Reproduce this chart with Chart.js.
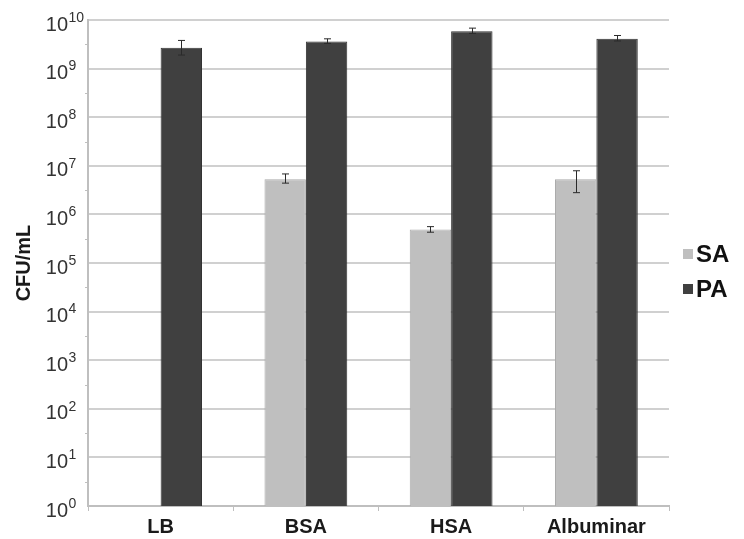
<!DOCTYPE html>
<html><head><meta charset="utf-8">
<script src="https://cdn.jsdelivr.net/npm/chart.js@4/dist/chart.umd.min.js"></script>
<style>html,body{margin:0;padding:0;background:#fff}#wrap{width:744px;height:539px}</style>
</head><body><div id="wrap"><canvas id="c" width="744" height="539"></canvas></div>
<script>
const categories = ['LB', 'BSA', 'HSA', 'Albuminar'];
const seriesNames = ['SA', 'PA'];
const saValues = [null, 5.3e6, 4.9e5, 5.3e6];
const saLow    = [null, 4.4e6, 4.3e5, 2.8e6];
const saHigh   = [null, 6.8e6, 5.6e5, 7.9e6];
const paValues = [2.7e9, 3.6e9, 5.9e9, 4.1e9];
const paLow    = [1.9e9, 3.3e9, 5.3e9, 3.7e9];
const paHigh   = [3.8e9, 4.1e9, 6.8e9, 4.8e9];
const yTickExponents = [0, 1, 2, 3, 4, 5, 6, 7, 8, 9, 10];
const yTitle = 'CFU/mL';

const FONT = "'Liberation Sans', Arial, sans-serif";
const colors = ['#bfbfbf', '#404040'];
const borders = ['#ababab', '#333333'];
const errLow = [saLow, paLow];
const errHigh = [saHigh, paHigh];

const extras = {
  id: 'extras',
  afterDatasetsDraw(chart) {
    const ctx = chart.ctx;
    const y = chart.scales.y;
    const area = chart.chartArea;
    ctx.save();
    // error bars
    ctx.strokeStyle = '#2a2a2a';
    ctx.lineWidth = 1;
    chart.data.datasets.forEach((ds, i) => {
      const meta = chart.getDatasetMeta(i);
      meta.data.forEach((bar, j) => {
        const lo = errLow[i][j], hi = errHigh[i][j];
        if (lo == null || hi == null) return;
        const x = Math.round(bar.x) + 0.5;
        const y1 = y.getPixelForValue(hi), y2 = y.getPixelForValue(lo);
        ctx.beginPath();
        ctx.moveTo(x, y1); ctx.lineTo(x, y2);
        ctx.moveTo(x - 3.5, y1); ctx.lineTo(x + 3.5, y1);
        ctx.moveTo(x - 3.5, y2); ctx.lineTo(x + 3.5, y2);
        ctx.stroke();
      });
    });
    ctx.restore();
  },
  afterDraw(chart) {
    const ctx = chart.ctx;
    const y = chart.scales.y;
    const area = chart.chartArea;
    ctx.save();
    // minor ticks on y axis
    ctx.strokeStyle = '#bfbfbf';
    ctx.lineWidth = 1;
    for (let k = 0; k < yTickExponents.length - 1; k++) {
      const py = Math.round(y.getPixelForValue(Math.pow(10, yTickExponents[k] + 0.5))) + 0.5;
      ctx.beginPath(); ctx.moveTo(area.left - 3, py); ctx.lineTo(area.left + 1, py); ctx.stroke();
    }
    // y tick labels 10^n
    ctx.fillStyle = '#333333';
    yTickExponents.forEach(e => {
      const py = y.getPixelForValue(Math.pow(10, e));
      ctx.font = '20px ' + FONT;
      ctx.textAlign = 'right';
      ctx.textBaseline = 'middle';
      ctx.fillText('10', 68, py + 5);
      ctx.font = '14px ' + FONT;
      ctx.textAlign = 'left';
      ctx.fillText(String(e), 68.5, py - 2);
    });
    // y title
    ctx.save();
    ctx.translate(24, (area.top + area.bottom) / 2);
    ctx.rotate(-Math.PI / 2);
    ctx.font = 'bold 20px ' + FONT;
    ctx.fillStyle = '#1a1a1a';
    ctx.textAlign = 'center';
    ctx.textBaseline = 'middle';
    ctx.fillText(yTitle, 0, 0);
    ctx.restore();
    // legend
    const legendY = [254, 289];
    chart.data.datasets.forEach((ds, i) => {
      ctx.fillStyle = ds.backgroundColor;
      ctx.fillRect(683, legendY[i] - 5, 10, 10);
      ctx.fillStyle = '#111111';
      ctx.font = 'bold 24px ' + FONT;
      ctx.textAlign = 'left';
      ctx.textBaseline = 'middle';
      ctx.fillText(ds.label, 696, legendY[i] + 1);
    });
    ctx.restore();
  }
};

new Chart(document.getElementById('c'), {
  type: 'bar',
  data: {
    labels: categories,
    datasets: [
      { label: seriesNames[0], data: saValues, backgroundColor: colors[0], borderColor: borders[0], borderWidth: 1 },
      { label: seriesNames[1], data: paValues, backgroundColor: colors[1], borderColor: borders[1], borderWidth: 1 }
    ]
  },
  options: {
    responsive: false,
    animation: false,
    layout: { padding: { top: 20, right: 75, left: 0, bottom: 0 } },
    plugins: { legend: { display: false }, tooltip: { enabled: false } },
    datasets: { bar: { categoryPercentage: 0.57, barPercentage: 1 } },
    scales: {
      x: {
        grid: { display: true, drawOnChartArea: false, drawTicks: true, tickLength: 5, color: '#bfbfbf', lineWidth: 1, offset: true },
        border: { color: '#bfbfbf', width: 2 },
        ticks: { font: { family: FONT, size: 20, weight: 'bold' }, color: '#1a1a1a', padding: 4, maxRotation: 0 },
        afterFit(s) { s.height = 33; }
      },
      y: {
        type: 'logarithmic',
        min: 1, max: 1e10,
        afterBuildTicks(s) { s.ticks = yTickExponents.map(e => ({ value: Math.pow(10, e) })); },
        ticks: { display: false },
        grid: { color: '#d0d0d0', lineWidth: 2, drawTicks: false },
        border: { color: '#bfbfbf', width: 2 },
        afterFit(s) { s.width = 88; }
      }
    }
  },
  plugins: [extras]
});
</script></body></html>
